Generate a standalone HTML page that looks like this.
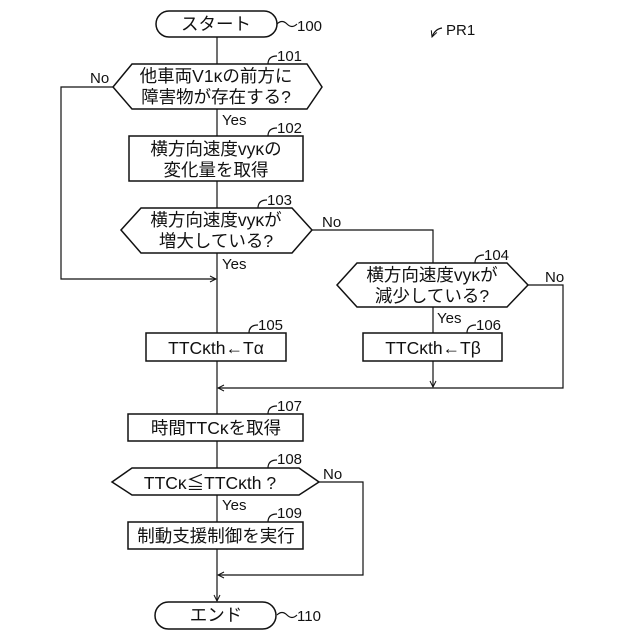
<!DOCTYPE html>
<html><head><meta charset="utf-8"><style>
html,body{margin:0;padding:0;background:#fff;}
svg{display:block;}
text{font-family:"Liberation Sans","Noto Sans CJK JP",sans-serif;fill:#111;}
</style></head><body>
<svg width="640" height="640" viewBox="0 0 640 640" xmlns="http://www.w3.org/2000/svg">
<defs><marker id="a" markerWidth="8" markerHeight="8" refX="7" refY="4" orient="auto" markerUnits="userSpaceOnUse"><path d="M1,1 L7,4 L1,7" fill="none" stroke="#111" stroke-width="1"/></marker></defs>
<g fill="none" stroke="#111" stroke-width="1.5">
<rect x="156" y="11" width="121" height="26" rx="13"/>
<polygon points="113,87 132,64 307,64 322,87 307,109 132,109"/>
<rect x="129" y="136" width="174" height="45"/>
<polygon points="121,230 141,208 292,208 312,230 292,253 141,253"/>
<polygon points="337,285 357,263 507,263 528,285 507,307 357,307"/>
<rect x="146" y="333" width="140" height="28"/>
<rect x="363" y="333" width="139" height="28"/>
<rect x="128" y="414" width="175" height="27"/>
<polygon points="112,482 132,468 299,468 319,482 299,495 132,495"/>
<rect x="128" y="522" width="175" height="27"/>
<rect x="155" y="602" width="121" height="27" rx="13.5"/>
</g>
<g fill="none" stroke="#111" stroke-width="1.2">
<line x1="217" y1="37" x2="217" y2="64"/>
<line x1="217" y1="109" x2="217" y2="136"/>
<line x1="217" y1="181" x2="217" y2="208"/>
<line x1="217" y1="253" x2="217" y2="333"/>
<polyline points="113,87 61,87 61,279 216,279" marker-end="url(#a)"/>
<polyline points="312,230 433,230 433,263"/>
<polyline points="528,285 563,285 563,388 218,388" marker-end="url(#a)"/>
<line x1="433" y1="307" x2="433" y2="333"/>
<line x1="433" y1="361" x2="433" y2="387" marker-end="url(#a)"/>
<line x1="217" y1="361" x2="217" y2="414"/>
<line x1="217" y1="441" x2="217" y2="468"/>
<line x1="217" y1="495" x2="217" y2="522"/>
<polyline points="319,482 363,482 363,575 218,575" marker-end="url(#a)"/>
<line x1="217" y1="549" x2="217" y2="601" marker-end="url(#a)"/>
<path d="M277,24 q5,-5 10,0 t10,0"/>
<path d="M277,615 q5,-5 10,0 t10,0"/>
<path d="M268,64 q0,-8 9,-8"/>
<path d="M268,136 q0,-8 9,-8"/>
<path d="M258,208 q0,-8 9,-8"/>
<path d="M475,263 q0,-8 9,-8"/>
<path d="M249,333 q0,-8 9,-8"/>
<path d="M467,333 q0,-8 9,-8"/>
<path d="M268,414 q0,-8 9,-8"/>
<path d="M268,468 q0,-8 9,-8"/>
<path d="M268,522 q0,-8 9,-8"/>
<path d="M442,28 q-7,1 -10,9" marker-end="url(#a)"/>
</g>
<g font-size="17.5">
<text x="216" y="30" text-anchor="middle">スタート</text>
<text x="216" y="82" text-anchor="middle">他車両V1κの前方に</text>
<text x="216" y="103" text-anchor="middle">障害物が存在する?</text>
<text x="216" y="155" text-anchor="middle">横方向速度vyκの</text>
<text x="216" y="176" text-anchor="middle">変化量を取得</text>
<text x="216" y="226" text-anchor="middle">横方向速度vyκが</text>
<text x="216" y="247" text-anchor="middle">増大している?</text>
<text x="432" y="281" text-anchor="middle">横方向速度vyκが</text>
<text x="432" y="302" text-anchor="middle">減少している?</text>
<text x="216" y="354" text-anchor="middle">TTCκth←Tα</text>
<text x="433" y="354" text-anchor="middle">TTCκth←Tβ</text>
<text x="216" y="434" text-anchor="middle">時間TTCκを取得</text>
<text x="210" y="489" text-anchor="middle">TTCκ≦TTCκth ?</text>
<text x="216" y="542" text-anchor="middle">制動支援制御を実行</text>
<text x="216" y="621" text-anchor="middle">エンド</text>
</g>
<g font-size="15">
<text x="297" y="31">100</text>
<text x="446" y="35">PR1</text>
<text x="277" y="61">101</text>
<text x="277" y="133">102</text>
<text x="267" y="205">103</text>
<text x="484" y="260">104</text>
<text x="258" y="330">105</text>
<text x="476" y="330">106</text>
<text x="277" y="411">107</text>
<text x="277" y="464">108</text>
<text x="277" y="518">109</text>
<text x="297" y="621">110</text>
<text x="90" y="83">No</text>
<text x="322" y="227">No</text>
<text x="545" y="282">No</text>
<text x="323" y="479">No</text>
<text x="222" y="125">Yes</text>
<text x="222" y="269">Yes</text>
<text x="437" y="323">Yes</text>
<text x="222" y="510">Yes</text>
</g>
</svg>
</body></html>
